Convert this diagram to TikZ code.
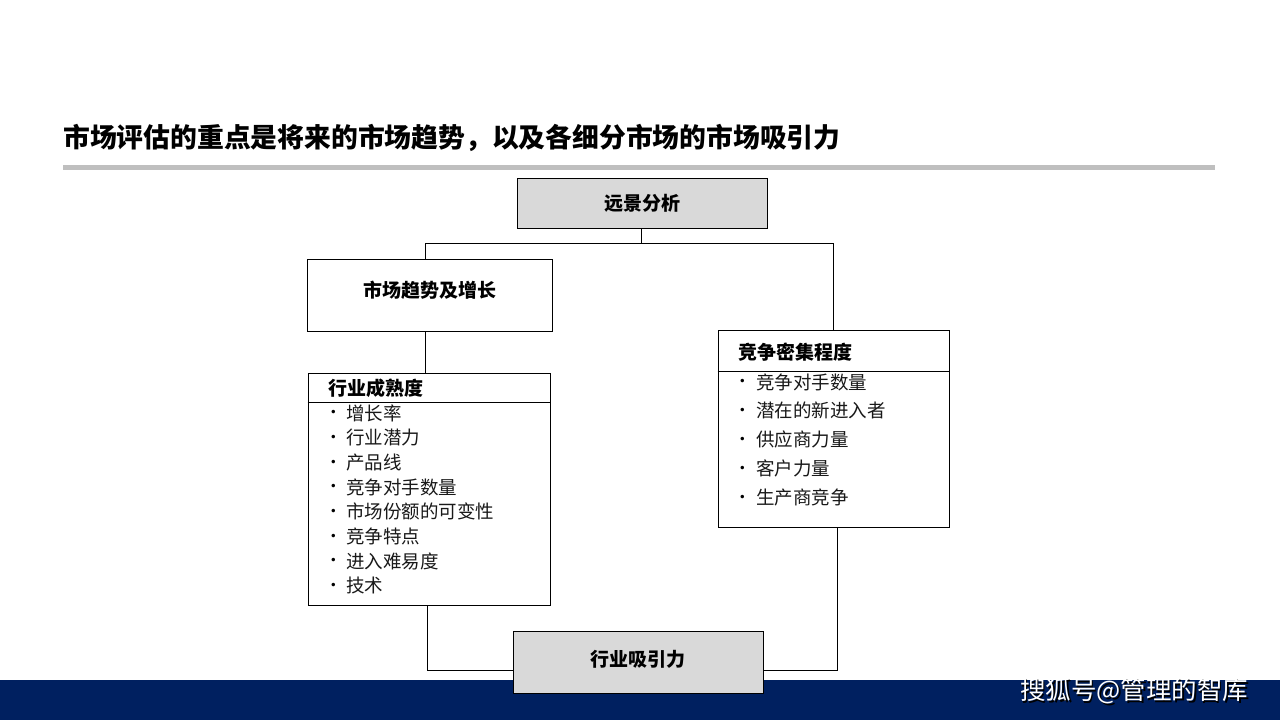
\documentclass[tikz,border=0pt]{standalone}
\usepackage{fontspec}
\setmainfont{Noto Sans CJK SC}
\newfontfamily\dejavu{DejaVu Sans}
\usepackage{tikz}
\definecolor{box_gray}{RGB}{217, 217, 217}
\definecolor{rule_gray}{RGB}{191, 191, 191}
\definecolor{band_blue}{RGB}{0, 32, 96}
\tikzstyle{gbox}=[rectangle,fill=box_gray,draw=black,line width=1pt,
  inner sep=0pt,minimum width=250pt,font=\fontsize{19}{19}\selectfont\bfseries]
\tikzstyle{wbox}=[rectangle,fill=white,draw=black,line width=1pt,inner sep=0pt]
\tikzstyle{head}=[anchor=west,inner sep=0pt,font=\fontsize{19}{19}\selectfont\bfseries]
\tikzstyle{item}=[anchor=west,inner sep=0pt,text=black!90,font=\fontsize{18.5}{18.5}\selectfont]
\tikzstyle{dot}=[anchor=center,inner sep=0pt,text=black,font=\dejavu\fontsize{12}{12}\selectfont]
\tikzstyle{link}=[draw=black,line width=1pt]

\begin{document}
\begin{tikzpicture}[x=1pt,y=-1pt]
    \useasboundingbox (0,0) rectangle (1280,720);
    \fill[white] (0,0) rectangle (1280,720);
    % title and rule
    \node [anchor=west,inner sep=0pt,font=\fontsize{26.8}{26.8}\selectfont\bfseries] (title) at (63,138)
      {市场评估的重点是将来的市场趋势，以及各细分市场的市场吸引力};
    \fill[rule_gray] (63,165) rectangle (1215,170);
    % bottom band
    \fill[band_blue] (0,680) rectangle (1280,720);
    % boxes
    \node [style=gbox,minimum height=50pt] (vision) at (642,203) {远景分析};
    \node [style=wbox,minimum width=245pt,minimum height=72pt] (trend) at (429.5,295) {};
    \node [style=head,anchor=center] (trendt) at (429.5,290) {市场趋势及增长};
    \node [style=wbox,minimum width=242pt,minimum height=232pt] (mature) at (429,489) {};
    \node [style=wbox,minimum width=231pt,minimum height=197pt] (compete) at (833.5,428.5) {};
    \node [style=gbox,minimum height=62pt] (attract) at (638,662) {};
    \node [style=head,anchor=center] (attractt) at (638,659) {行业吸引力};
    % headers
    \node [style=head] (matureh) at (328,388) {行业成熟度};
    \draw [style=link] (mature.west |- 0,402) -- (mature.east |- 0,402);
    \node [style=head] (competeh) at (738,352) {竞争密集程度};
    \draw [style=link] (compete.west |- 0,371) -- (compete.east |- 0,371);
    % items
    \foreach \t [count=\i from 0] in {增长率,行业潜力,产品线,竞争对手数量,市场份额的可变性,竞争特点,进入难易度,技术} {
      \node [style=item] (m\i) at (346,413+24.7*\i) {\t};
      \node [style=dot] (mb\i) at (333.5,413.5+24.7*\i) {•};
    }
    \foreach \t [count=\i from 0] in {竞争对手数量,潜在的新进入者,供应商力量,客户力量,生产商竞争} {
      \node [style=item] (c\i) at (756,382+28.9*\i) {\t};
      \node [style=dot] (cb\i) at (742.5,382.5+28.9*\i) {•};
    }
    % connectors
    \coordinate (j) at (641,243);
    \coordinate (jl) at (425,243);
    \coordinate (jr) at (833,243);
    \draw [style=link] (vision.south -| j) -- (j);
    \draw [style=link] (jl) -- (jr);
    \draw [style=link] (jl) -- (jl |- trend.north);
    \draw [style=link] (jr) -- (jr |- compete.north);
    \draw [style=link] (trend.south -| 425,0) -- (mature.north -| 425,0);
    \coordinate (bl) at (427,670);
    \coordinate (br) at (837,670);
    \draw [style=link] (mature.south -| bl) -- (bl) -- (attract.west |- bl);
    \draw [style=link] (compete.south -| br) -- (br) -- (attract.east |- br);
    % watermark
    \node [anchor=west,inner sep=0pt,text=black,font=\fontsize{25.5}{25.5}\selectfont] (wms) at (1021.5,692.5) {搜狐号@管理的智库};
    \node [anchor=west,inner sep=0pt,text=white,font=\fontsize{25.5}{25.5}\selectfont] (wm) at (1020,691) {搜狐号@管理的智库};
\end{tikzpicture}
\end{document}
